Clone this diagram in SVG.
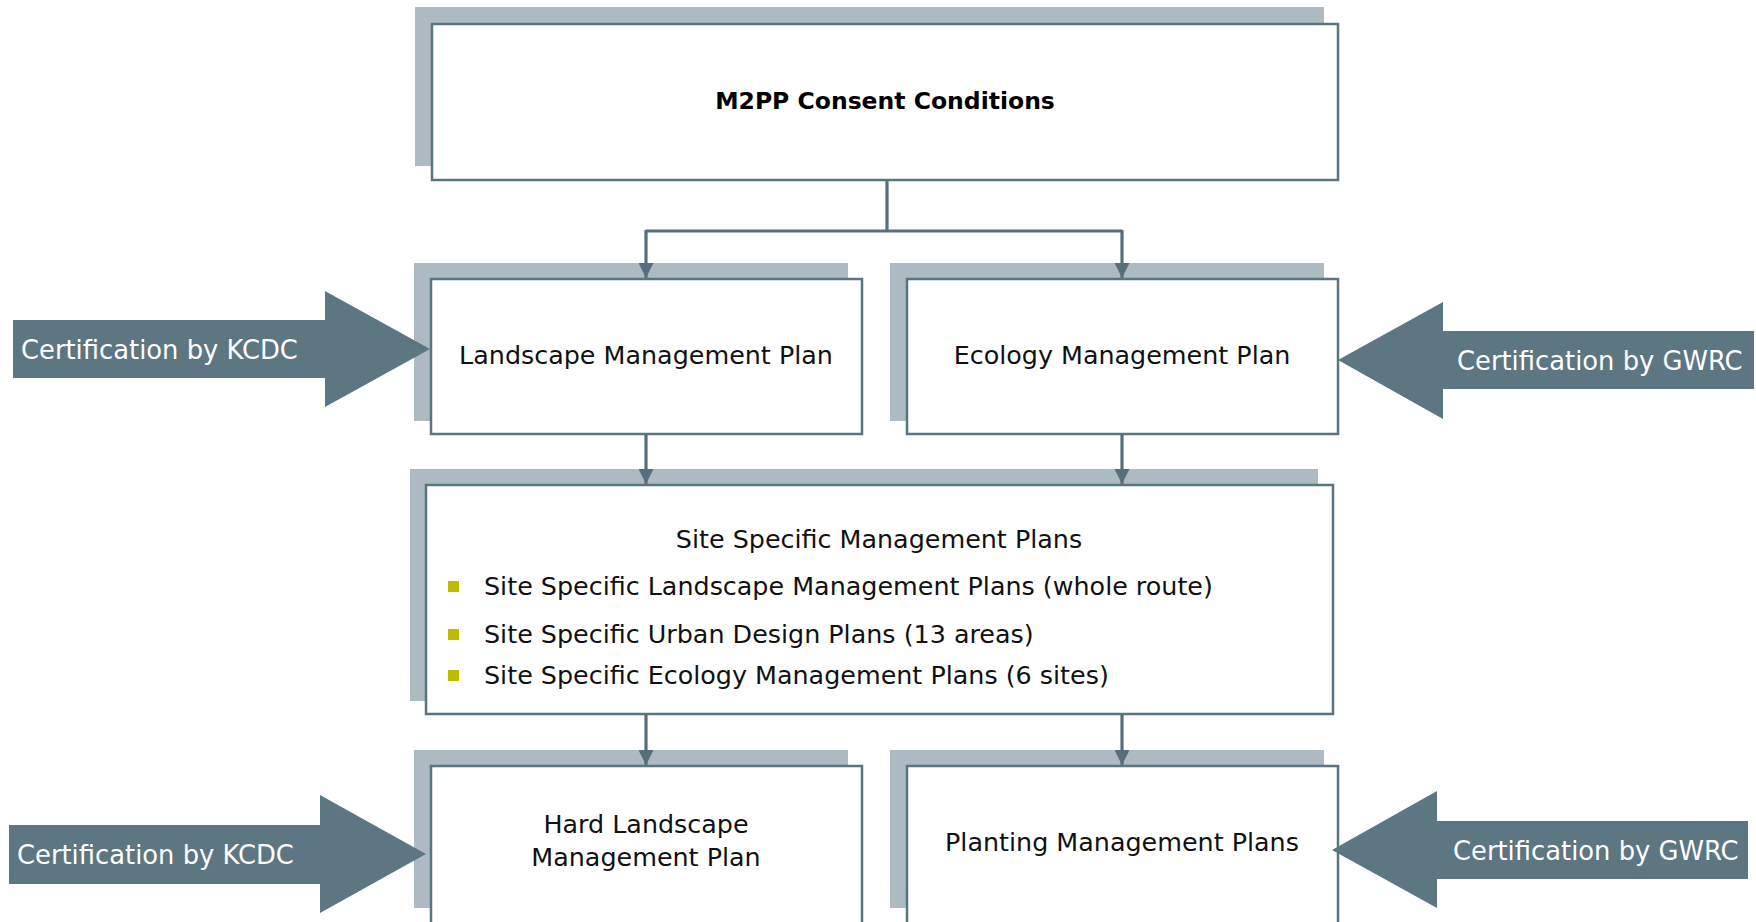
<svg xmlns="http://www.w3.org/2000/svg" width="1756" height="922" viewBox="0 0 1756 922">
<style>
.shadow{fill:#adbac1}
.box{fill:#ffffff;stroke:#5a7480;stroke-width:2.5}
.t{font-family:"DejaVu Sans","Liberation Sans",sans-serif;font-size:25.4px;fill:#111111;text-anchor:middle}
.tl{font-family:"DejaVu Sans","Liberation Sans",sans-serif;font-size:25.4px;fill:#111111}
.tb{font-family:"DejaVu Sans","Liberation Sans",sans-serif;font-size:23.5px;font-weight:bold;fill:#000000;text-anchor:middle}
.arrow{fill:#5c7682}
.at{font-family:"DejaVu Sans","Liberation Sans",sans-serif;font-size:25.8px;fill:#ffffff}
.bullet{fill:#bcbc00}
.conn{fill:none;stroke:#566f7b;stroke-width:3.2}
</style>
<defs>
<marker id="ah" markerUnits="userSpaceOnUse" markerWidth="15" markerHeight="15" viewBox="0 0 15 15" refX="15" refY="7.5" orient="auto">
<path d="M0,0 L15,7.5 L0,15 z" fill="#566f7b"/>
</marker>
</defs>
<rect width="1756" height="922" fill="#ffffff"/>

<g id="m2pp">
<rect class="shadow" x="415" y="7" width="909" height="159"/>
<rect class="box" x="432" y="24" width="906" height="156"/>
<text class="tb" x="885" y="109">M2PP Consent Conditions</text>
</g>

<g id="landscape">
<rect class="shadow" x="414" y="263" width="434" height="158"/>
<rect class="box" x="431" y="279" width="431" height="155"/>
<text class="t" x="646" y="364">Landscape Management Plan</text>
</g>

<g id="ecology">
<rect class="shadow" x="890" y="263" width="434" height="158"/>
<rect class="box" x="907" y="279" width="431" height="155"/>
<text class="t" x="1122" y="364">Ecology Management Plan</text>
</g>

<g id="site">
<rect class="shadow" x="410" y="469" width="908" height="232"/>
<rect class="box" x="426" y="485" width="907" height="229"/>
<text class="t" x="879" y="548">Site Specific Management Plans</text>
<rect class="bullet" x="448" y="581" width="11" height="11"/>
<text class="tl" x="484" y="595">Site Specific Landscape Management Plans (whole route)</text>
<rect class="bullet" x="448" y="629" width="11" height="11"/>
<text class="tl" x="484" y="643">Site Specific Urban Design Plans (13 areas)</text>
<rect class="bullet" x="448" y="670" width="11" height="11"/>
<text class="tl" x="484" y="684">Site Specific Ecology Management Plans (6 sites)</text>
</g>

<g id="hard">
<rect class="shadow" x="414" y="750" width="434" height="158"/>
<rect class="box" x="431" y="766" width="431" height="170"/>
<text class="t" x="646" y="833">Hard Landscape</text>
<text class="t" x="646" y="866">Management Plan</text>
</g>

<g id="planting">
<rect class="shadow" x="890" y="750" width="434" height="158"/>
<rect class="box" x="907" y="766" width="431" height="170"/>
<text class="t" x="1122" y="851">Planting Management Plans</text>
</g>

<g id="kcdc-top">
<polygon class="arrow" points="13,320 325,320 325,291 430,349 325,407 325,378 13,378"/>
<text class="at" x="21" y="359">Certification by KCDC</text>
</g>

<g id="gwrc-top">
<polygon class="arrow" points="1338,360 1443,302 1443,331 1754,331 1754,389 1443,389 1443,419"/>
<text class="at" x="1457" y="370">Certification by GWRC</text>
</g>

<g id="kcdc-bottom">
<polygon class="arrow" points="9,825 320,825 320,795 426,854 320,913 320,884 9,884"/>
<text class="at" x="17" y="864">Certification by KCDC</text>
</g>

<g id="gwrc-bottom">
<polygon class="arrow" points="1332,850 1437,791 1437,821 1748,821 1748,879 1437,879 1437,908"/>
<text class="at" x="1453" y="860">Certification by GWRC</text>
</g>

<g id="connectors">
<path class="conn" d="M887,181 V231"/>
<path class="conn" d="M646,231 H1122"/>
<path class="conn" d="M646,230 V278" marker-end="url(#ah)"/>
<path class="conn" d="M1122,230 V278" marker-end="url(#ah)"/>
<path class="conn" d="M646,435 V484" marker-end="url(#ah)"/>
<path class="conn" d="M1122,435 V484" marker-end="url(#ah)"/>
<path class="conn" d="M646,715 V765" marker-end="url(#ah)"/>
<path class="conn" d="M1122,715 V765" marker-end="url(#ah)"/>
</g>
</svg>
